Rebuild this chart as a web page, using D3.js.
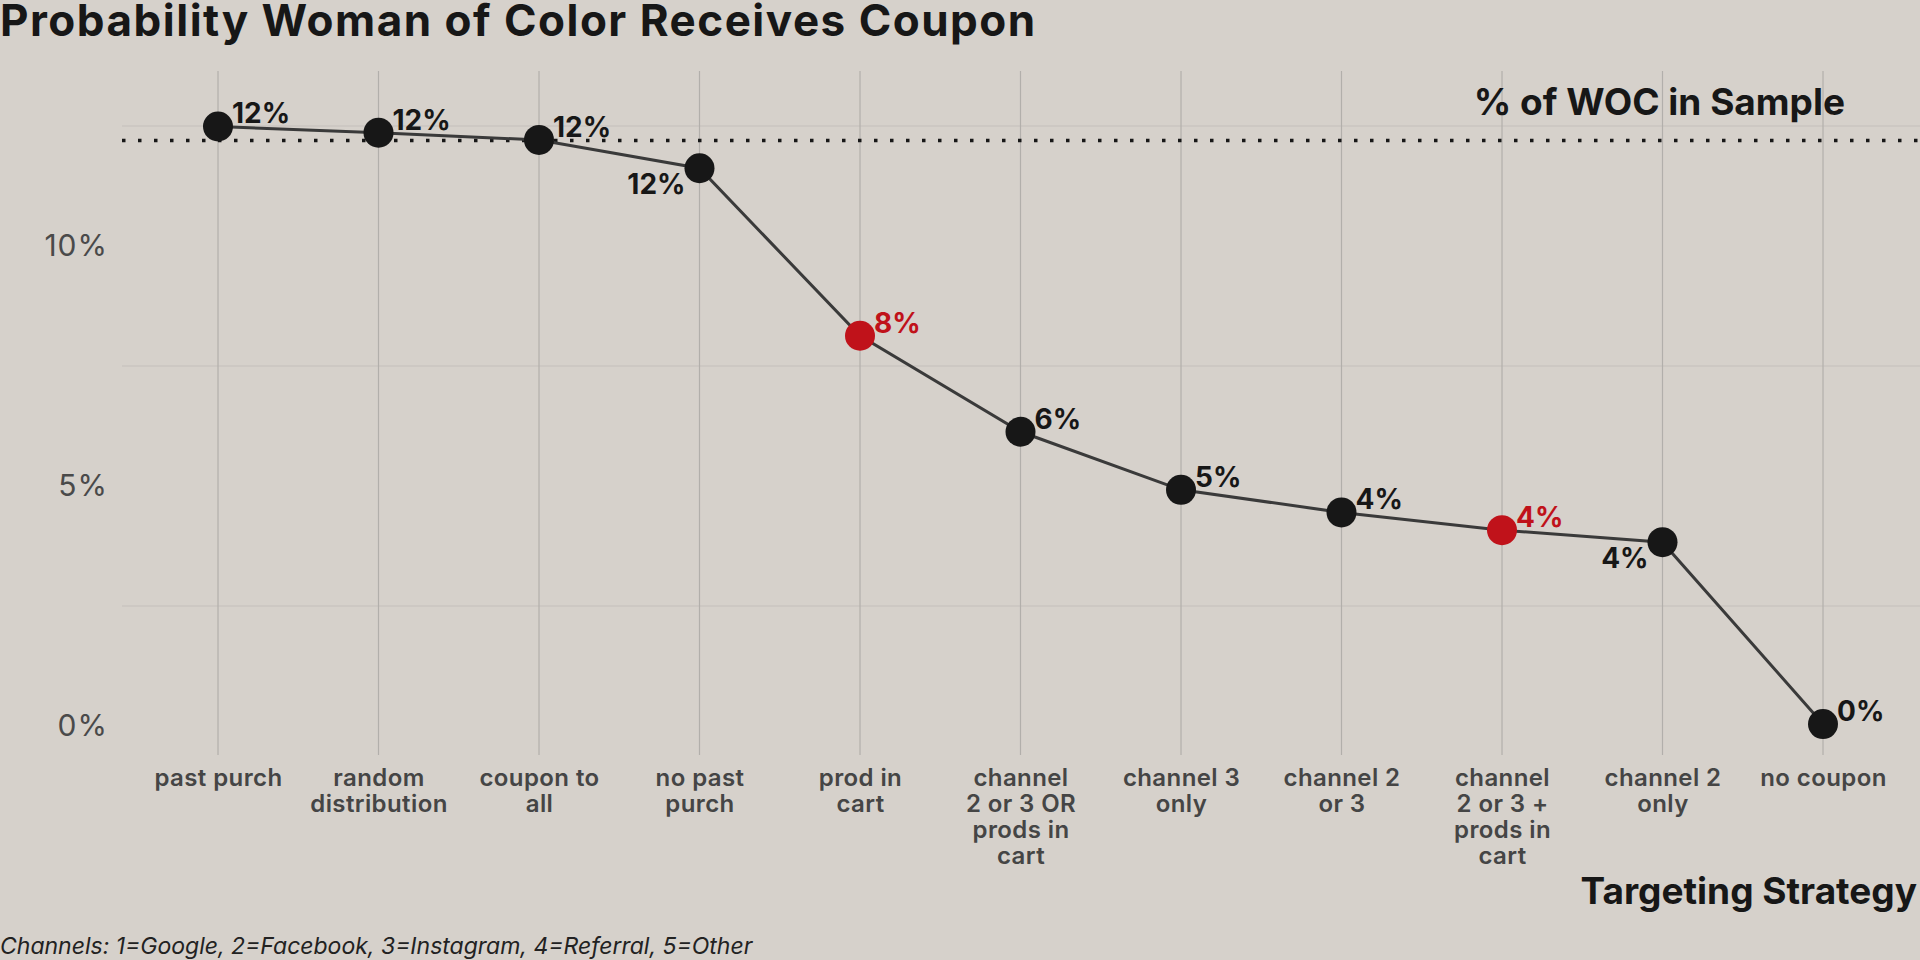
<!DOCTYPE html>
<meta charset="utf-8">
<script src="https://d3js.org/d3.v7.min.js"></script>
<html>
<style>
  body { margin: 0; background: #d6d1cb; }
  svg { display: block; }
  text { font-family: Inter, "Noto Sans", sans-serif; }
</style>
<body>
<svg id="chart" width="1920" height="960"></svg>
<script>

// data
var strategies = ["past purch", "random distribution", "coupon to all", "no past purch",
  "prod in cart", "channel 2 or 3 OR prods in cart", "channel 3 only", "channel 2 or 3",
  "channel 2 or 3 + prods in cart", "channel 2 only", "no coupon"];
var tickLines = [["past purch"], ["random", "distribution"], ["coupon to", "all"], ["no past", "purch"],
  ["prod in", "cart"], ["channel", "2 or 3 OR", "prods in", "cart"], ["channel 3", "only"], ["channel 2", "or 3"],
  ["channel", "2 or 3 +", "prods in", "cart"], ["channel 2", "only"], ["no coupon"]];
var probWOC = [12.49, 12.36, 12.21, 11.62, 8.13, 6.13, 4.92, 4.45, 4.08, 3.83, 0.04];
var labelText = ["12%", "12%", "12%", "12%", "8%", "6%", "5%", "4%", "4%", "4%", "0%"];
var highlighted = [false, false, false, false, true, false, false, false, true, false, false];
var labelBelow = [false, false, false, true, false, false, false, false, false, true, false];
var sampleShare = 12.2;
var yTicks = [0, 5, 10];
var yMinor = [2.5, 7.5, 12.5];

var svg = d3.select("#chart");
var red = "#c0121a", dark = "#171717";

var x = d3.scalePoint().domain(strategies).range([218, 1823]);
var y = d3.scaleLinear().domain([-0.604, 13.646]).range([755, 71]);

// title
svg.append("text")
  .attr("x", 0).attr("y", 36)
  .style("font-size", "44px").style("font-weight", 700).style("letter-spacing", "1.5px")
  .attr("fill", dark)
  .text("Probability Woman of Color Receives Coupon");

// grid
svg.append("g").selectAll("line")
  .data(yMinor).enter().append("line")
  .attr("x1", 122).attr("x2", 1920)
  .attr("y1", d => y(d)).attr("y2", d => y(d))
  .attr("stroke", "#cac5c0").attr("stroke-width", 1.5);

svg.append("g").selectAll("line")
  .data(strategies).enter().append("line")
  .attr("x1", d => x(d)).attr("x2", d => x(d))
  .attr("y1", 71).attr("y2", 755)
  .attr("stroke", "#b2afab").attr("stroke-width", 1.2);

// y axis
var yAxis = svg.append("g")
  .attr("transform", "translate(122,0)")
  .call(d3.axisLeft(y).tickValues(yTicks).tickSize(0).tickPadding(14).tickFormat(d => d + "%"));
yAxis.select(".domain").remove();
yAxis.selectAll("text")
  .style("font-family", "Inter, sans-serif").style("font-size", "30px")
  .style("letter-spacing", "1px")
  .attr("fill", "#4a4a4a");

// x axis
var xAxis = svg.append("g")
  .attr("transform", "translate(0,755)")
  .call(d3.axisBottom(x).tickSize(0).tickFormat(""));
xAxis.select(".domain").remove();
xAxis.selectAll(".tick").append("text")
  .attr("text-anchor", "middle")
  .style("font-size", "24px").style("font-weight", 600).style("letter-spacing", "0.4px")
  .attr("fill", "#454545")
  .each(function(d, i) {
    var t = d3.select(this);
    tickLines[i].forEach(function(line, k) {
      t.append("tspan").attr("x", 0).attr("y", 31 + k * 26).text(line);
    });
  });

// share of WOC in the sample
svg.append("line")
  .attr("x1", 122).attr("x2", 1920)
  .attr("y1", y(sampleShare)).attr("y2", y(sampleShare))
  .attr("stroke", dark).attr("stroke-width", 3.5)
  .attr("stroke-dasharray", "3.5,12.5");
svg.append("text")
  .attr("x", 1845).attr("y", 115).attr("text-anchor", "end")
  .style("font-size", "37px").style("font-weight", 700).attr("fill", dark)
  .text("% of WOC in Sample");

// line + points
var line = d3.line().x((d, i) => x(strategies[i])).y(d => y(d));
svg.append("path")
  .datum(probWOC)
  .attr("d", line)
  .attr("fill", "none").attr("stroke", "#3a3a3a").attr("stroke-width", 3);

svg.append("g").selectAll("circle")
  .data(probWOC).enter().append("circle")
  .attr("cx", (d, i) => x(strategies[i]))
  .attr("cy", d => y(d))
  .attr("r", 15)
  .attr("fill", (d, i) => highlighted[i] ? red : dark);

svg.append("g").selectAll("text")
  .data(probWOC).enter().append("text")
  .attr("x", (d, i) => x(strategies[i]) + (labelBelow[i] ? -14 : 14))
  .attr("y", (d, i) => y(d) + (labelBelow[i] ? 26 : -3))
  .attr("text-anchor", (d, i) => labelBelow[i] ? "end" : "start")
  .style("font-size", "28px").style("font-weight", 700)
  .attr("fill", (d, i) => highlighted[i] ? red : dark)
  .text((d, i) => labelText[i]);

// axis title + caption
svg.append("text")
  .attr("x", 1917).attr("y", 904).attr("text-anchor", "end")
  .style("font-size", "37px").style("font-weight", 700).attr("fill", dark)
  .text("Targeting Strategy");

svg.append("text")
  .attr("x", 0).attr("y", 954)
  .style("font-size", "23px").style("font-style", "italic").attr("fill", "#222")
  .text("Channels: 1=Google, 2=Facebook, 3=Instagram, 4=Referral, 5=Other");

</script>
</body>
</html>
